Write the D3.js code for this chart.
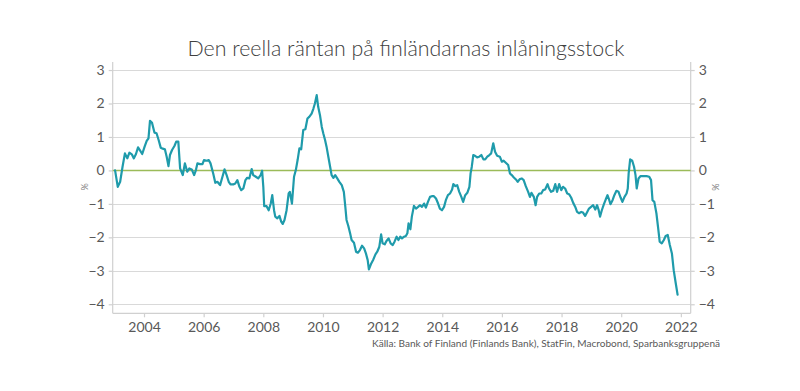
<!DOCTYPE html>
<html>
<head>
<meta charset="utf-8">
<script src="https://cdn.jsdelivr.net/npm/d3@7"></script>
<style>
  body { margin: 0; background: #fff; }
  svg { display: block; }
</style>
</head>
<body>
<script>
(function() {

  let years = [
    2003.03, 2003.12, 2003.20, 2003.28, 2003.36, 2003.44, 2003.51, 2003.59, 2003.66, 2003.73,
    2003.80, 2003.87, 2003.94, 2004.02, 2004.09, 2004.15, 2004.20, 2004.27, 2004.35, 2004.42,
    2004.49, 2004.56, 2004.63, 2004.70, 2004.76, 2004.82, 2004.87, 2004.94, 2005.02, 2005.08,
    2005.15, 2005.21, 2005.30, 2005.37, 2005.45, 2005.52, 2005.60, 2005.68, 2005.74, 2005.79,
    2005.88, 2005.96, 2006.01, 2006.10, 2006.17, 2006.23, 2006.32, 2006.39, 2006.46, 2006.55,
    2006.63, 2006.70, 2006.77, 2006.84, 2006.90, 2006.99, 2007.06, 2007.13, 2007.20, 2007.26,
    2007.33, 2007.40, 2007.46, 2007.53, 2007.61, 2007.66, 2007.75, 2007.83, 2007.91, 2007.96,
    2008.00, 2008.03, 2008.11, 2008.18, 2008.25, 2008.30, 2008.36, 2008.40, 2008.47, 2008.54,
    2008.60, 2008.65, 2008.71, 2008.78, 2008.85, 2008.89, 2008.96, 2009.03, 2009.09, 2009.15,
    2009.21, 2009.27, 2009.34, 2009.41, 2009.48, 2009.54, 2009.62, 2009.68, 2009.73, 2009.79,
    2009.84, 2009.90, 2009.96, 2010.01, 2010.07, 2010.12, 2010.18, 2010.24, 2010.29, 2010.35,
    2010.41, 2010.48, 2010.55, 2010.63, 2010.70, 2010.75, 2010.79, 2010.85, 2010.91, 2010.96,
    2011.04, 2011.11, 2011.17, 2011.24, 2011.31, 2011.38, 2011.44, 2011.50, 2011.54, 2011.61,
    2011.69, 2011.76, 2011.82, 2011.89, 2011.95, 2012.00, 2012.07, 2012.13, 2012.20, 2012.27,
    2012.34, 2012.40, 2012.47, 2012.53, 2012.59, 2012.65, 2012.72, 2012.78, 2012.83, 2012.87,
    2012.93, 2012.98, 2013.05, 2013.12, 2013.19, 2013.25, 2013.32, 2013.39, 2013.45, 2013.52,
    2013.59, 2013.65, 2013.72, 2013.79, 2013.86, 2013.92, 2013.99, 2014.06, 2014.12, 2014.19,
    2014.26, 2014.33, 2014.37, 2014.44, 2014.50, 2014.57, 2014.64, 2014.70, 2014.77, 2014.84,
    2014.91, 2014.95, 2014.99, 2015.04, 2015.11, 2015.17, 2015.24, 2015.31, 2015.38, 2015.44,
    2015.51, 2015.58, 2015.64, 2015.71, 2015.77, 2015.84, 2015.93, 2016.00, 2016.06, 2016.13,
    2016.21, 2016.27, 2016.33, 2016.40, 2016.47, 2016.53, 2016.60, 2016.67, 2016.73, 2016.80,
    2016.88, 2016.94, 2016.99, 2017.07, 2017.13, 2017.18, 2017.25, 2017.32, 2017.38, 2017.45,
    2017.53, 2017.58, 2017.65, 2017.72, 2017.79, 2017.85, 2017.92, 2017.99, 2018.05, 2018.12,
    2018.19, 2018.25, 2018.32, 2018.39, 2018.46, 2018.52, 2018.59, 2018.66, 2018.72, 2018.79,
    2018.86, 2018.92, 2018.99, 2019.06, 2019.13, 2019.19, 2019.24, 2019.29, 2019.35, 2019.42,
    2019.48, 2019.54, 2019.60, 2019.64, 2019.71, 2019.77, 2019.84, 2019.91, 2019.98, 2020.04,
    2020.11, 2020.18, 2020.22, 2020.25, 2020.30, 2020.37, 2020.43, 2020.48, 2020.52, 2020.58,
    2020.65, 2020.71, 2020.78, 2020.85, 2020.94, 2021.00, 2021.05, 2021.11, 2021.18, 2021.24,
    2021.29, 2021.36, 2021.43, 2021.49, 2021.56, 2021.63, 2021.70, 2021.76, 2021.83, 2021.89
  ];
  let rates = [
     0.00, -0.49, -0.34,  0.11,  0.51,  0.36,  0.53,  0.48,  0.36,  0.49,
     0.69,  0.59,  0.49,  0.71,  0.88,  0.96,  1.48,  1.42,  1.13,  1.11,
     0.91,  0.68,  0.65,  0.63,  0.41,  0.13,  0.46,  0.61,  0.73,  0.86,
     0.86,  0.06, -0.14,  0.21, -0.04,  0.06,  0.03, -0.14,  0.01,  0.21,
     0.19,  0.19,  0.31,  0.29,  0.31,  0.21, -0.09, -0.37, -0.34, -0.44,
    -0.19,  0.03, -0.14, -0.34, -0.42, -0.42, -0.39, -0.29, -0.49, -0.59,
    -0.54, -0.29, -0.22, -0.24,  0.04, -0.14, -0.19, -0.24, -0.14, -0.01,
    -0.49, -1.07, -1.07, -1.19, -0.99, -0.74, -1.19, -1.38, -1.43, -1.36,
    -1.53, -1.60, -1.48, -1.19, -0.69, -0.64, -0.99, -0.19,  0.01,  0.31,
     0.66,  0.63,  1.21,  1.23,  1.55,  1.60,  1.70,  1.85,  2.00,  2.25,
     1.90,  1.65,  1.30,  1.11,  0.91,  0.71,  0.41,  0.11, -0.14, -0.22,
    -0.14, -0.24, -0.34, -0.44, -0.64, -1.09, -1.48, -1.66, -1.88, -2.08,
    -2.16, -2.43, -2.46, -2.38, -2.25, -2.33, -2.48, -2.68, -2.96, -2.80,
    -2.66, -2.51, -2.43, -2.28, -1.91, -2.18, -2.21, -2.11, -2.03, -2.18,
    -2.23, -2.13, -1.98, -2.08, -1.98, -2.03, -1.98, -1.96, -1.88, -1.58,
    -1.76, -1.38, -1.06, -1.14, -1.09, -1.04, -1.09, -0.99, -1.11, -0.94,
    -0.79, -0.77, -0.77, -0.84, -0.99, -1.14, -1.19, -1.09, -0.89, -0.74,
    -0.69, -0.57, -0.41, -0.47, -0.44, -0.64, -0.79, -0.94, -0.74, -0.67,
    -0.49, -0.09,  0.11,  0.46,  0.43,  0.39,  0.41,  0.46,  0.33,  0.33,
     0.41,  0.46,  0.51,  0.81,  0.56,  0.44,  0.41,  0.26,  0.29,  0.23,
     0.16, -0.09, -0.14, -0.21, -0.27, -0.34, -0.26, -0.24, -0.29, -0.47,
    -0.64, -0.79, -0.67, -0.79, -1.04, -0.79, -0.69, -0.69, -0.59, -0.57,
    -0.41, -0.54, -0.64, -0.61, -0.41, -0.64, -0.41, -0.59, -0.49, -0.54,
    -0.69, -0.71, -0.81, -0.97, -1.09, -1.24, -1.28, -1.24, -1.26, -1.36,
    -1.24, -1.14, -1.09, -1.04, -1.17, -1.04, -1.17, -1.38, -1.19, -1.01,
    -0.87, -0.74, -0.89, -1.01, -0.89, -0.74, -0.61, -0.64, -0.81, -0.94,
    -0.79, -0.69, -0.54, -0.09,  0.33,  0.29,  0.11, -0.14, -0.54, -0.24,
    -0.17, -0.17, -0.17, -0.17, -0.19, -0.29, -0.89, -0.94, -1.28, -1.73,
    -2.13, -2.18, -2.08, -1.96, -1.93, -2.23, -2.48, -2.98, -3.38, -3.71
  ];
  let yTicks = [-4, -3, -2, -1, 0, 1, 2, 3];
  let xTicks = [2004, 2006, 2008, 2010, 2012, 2014, 2016, 2018, 2020, 2022];
  let title = "Den reella räntan på finländarnas inlåningsstock";
  let source = "Källa: Bank of Finland (Finlands Bank), StatFin, Macrobond, Sparbanksgruppenä";

  let fontFamily = "Lato, 'Open Sans', sans-serif";
  let axisColor = '#d0d0d0';
  let textColor = '#595959';

  let svg = d3.select('body')
    .append('svg')
    .attr('width', 800)
    .attr('height', 391);

  // scales
  let xScale = d3.scaleLinear()
    .domain([2002.95, 2022.33])
    .range([112.7, 690.7]);

  let yScale = d3.scaleLinear()
    .domain([-4.27, 3.24])
    .range([313.3, 62]);

  // horizontal gridlines
  svg.append('g')
    .selectAll('line')
    .data(yTicks.filter((d) => d != 0))
    .enter()
    .append('line')
      .attr('x1', xScale.range()[0])
      .attr('x2', xScale.range()[1])
      .attr('y1', (d) => Math.round(yScale(d)) + 0.5)
      .attr('y2', (d) => Math.round(yScale(d)) + 0.5)
      .attr('stroke', '#d9d9d9')
      .attr('stroke-width', 1.2);

  // left axis
  let yAxisLeft = d3.axisLeft(yScale)
    .tickValues(yTicks)
    .tickSize(4)
    .tickPadding(4)
    .tickFormat(d3.format('d'));
  let gl = svg.append('g')
    .attr('transform', 'translate(' + xScale.range()[0] + ', 0)')
    .call(yAxisLeft);

  // right axis
  let yAxisRight = d3.axisRight(yScale)
    .tickValues(yTicks)
    .tickSize(4)
    .tickPadding(4)
    .tickFormat(d3.format('d'));
  let gr = svg.append('g')
    .attr('transform', 'translate(' + xScale.range()[1] + ', 0)')
    .call(yAxisRight);

  // bottom axis
  let xAxis = d3.axisBottom(xScale)
    .tickValues(xTicks)
    .tickSize(4)
    .tickPadding(5)
    .tickFormat(d3.format('d'));
  let gx = svg.append('g')
    .attr('transform', 'translate(0, ' + yScale.range()[0] + ')')
    .call(xAxis);

  [gl, gr, gx].forEach((g) => {
    g.select('.domain').attr('stroke', axisColor).attr('stroke-width', 1.2);
    g.selectAll('.tick line').attr('stroke', axisColor).attr('stroke-width', 1.2);
    g.selectAll('.tick text')
      .attr('fill', textColor)
      .style('font-family', fontFamily)
      .style('font-size', '14px');
  });
  gl.select('.domain').attr('d', 'M0,' + yScale.range()[1] + 'V' + yScale.range()[0]);
  gr.select('.domain').attr('d', 'M0,' + yScale.range()[1] + 'V' + yScale.range()[0]);
  gx.select('.domain').attr('d', 'M' + xScale.range()[0] + ',0H' + xScale.range()[1]);

  // zero line
  svg.append('line')
    .attr('x1', xScale.range()[0])
    .attr('x2', xScale.range()[1])
    .attr('y1', yScale(0))
    .attr('y2', yScale(0))
    .attr('stroke', '#9bbb59')
    .attr('stroke-width', 1.5);

  // the series
  let points = years.map((y, i) => ({ year: y, rate: rates[i] }));
  let line = d3.line()
    .x((d) => xScale(d.year))
    .y((d) => yScale(d.rate));

  svg.append('path')
    .datum(points)
    .attr('fill', 'none')
    .attr('stroke', '#1f9bab')
    .attr('stroke-width', 2.2)
    .attr('stroke-linejoin', 'round')
    .attr('stroke-linecap', 'round')
    .attr('d', line);

  // title
  svg.append('text')
    .attr('x', 406)
    .attr('y', 56)
    .attr('text-anchor', 'middle')
    .attr('fill', '#404040')
    .attr('textLength', 437)
    .attr('lengthAdjust', 'spacingAndGlyphs')
    .style('font-family', fontFamily)
    .style('font-weight', 300)
    .style('font-size', '22px')
    .text(title);

  // axis unit labels
  svg.append('text')
    .attr('transform', 'translate(88, 187)rotate(-90)')
    .attr('text-anchor', 'middle')
    .attr('fill', '#7f7f7f')
    .style('font-family', fontFamily)
    .style('font-size', '9px')
    .text('%');

  svg.append('text')
    .attr('transform', 'translate(712, 187)rotate(90)')
    .attr('text-anchor', 'middle')
    .attr('fill', '#7f7f7f')
    .style('font-family', fontFamily)
    .style('font-size', '9px')
    .text('%');

  // source
  svg.append('text')
    .attr('x', 720)
    .attr('y', 347)
    .attr('text-anchor', 'end')
    .attr('fill', textColor)
    .attr('textLength', 348)
    .attr('lengthAdjust', 'spacingAndGlyphs')
    .style('font-family', fontFamily)
    .style('font-size', '9px')
    .text(source);

})();
</script>
</body>
</html>
